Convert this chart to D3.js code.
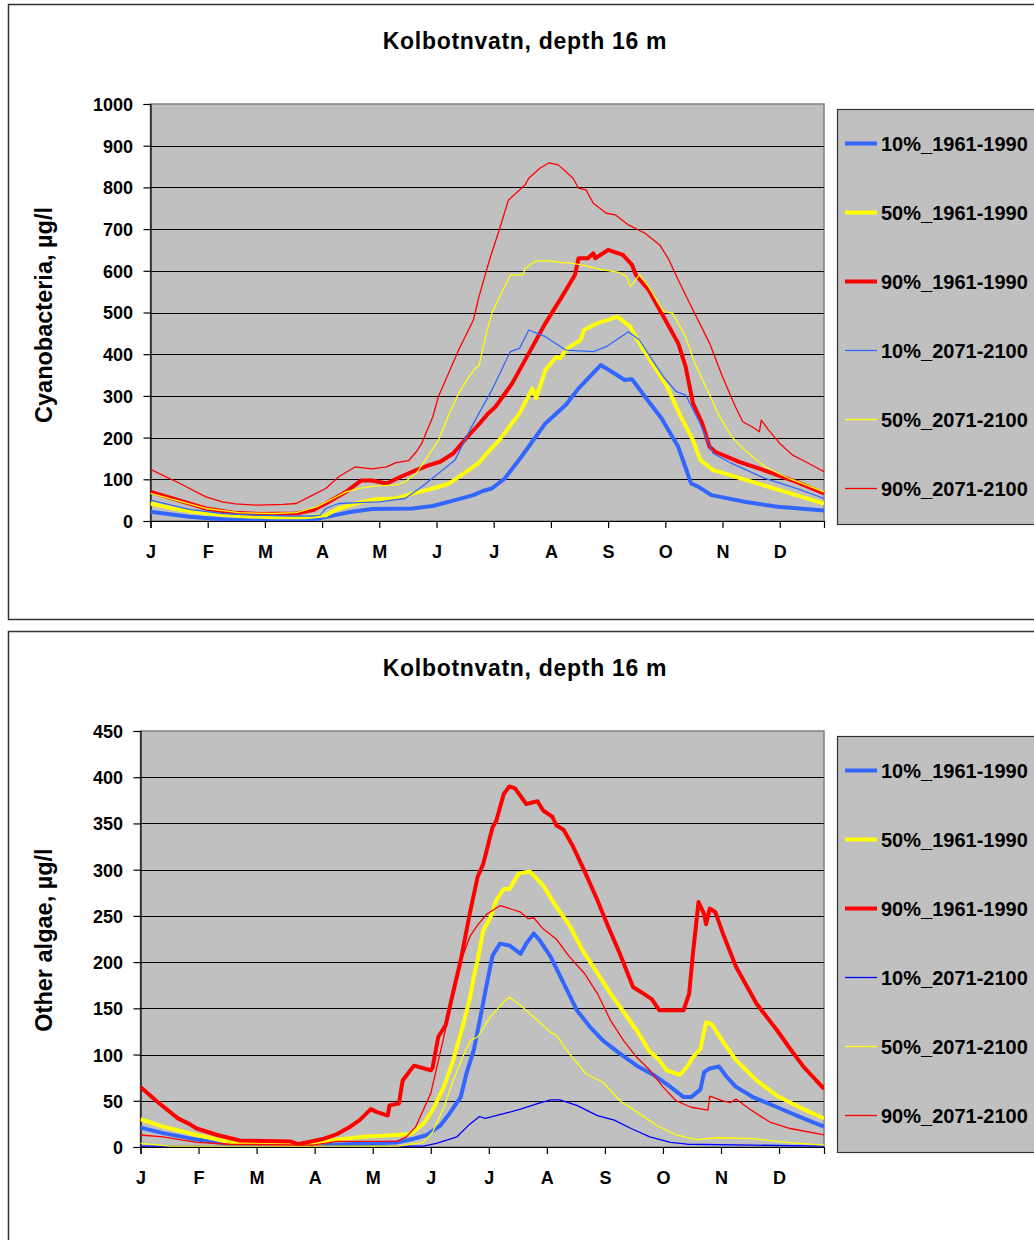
<!DOCTYPE html>
<html>
<head>
<meta charset="utf-8">
<script src="https://cdn.jsdelivr.net/npm/d3@7"></script>
<style>
  html, body { margin: 0; padding: 0; background: #fff; }
  svg { display: block; }
  text { font-family: "Liberation Sans", Arial, sans-serif; font-weight: bold; fill: #000; }
</style>
</head>
<body>
<svg id="chart" width="1034" height="1240"></svg>
<script>
// ---------------- DATA ----------------
const monthLabels = ["J","F","M","A","M","J","J","A","S","O","N","D"];
const monthTickDays = [0,31,62,93,124,155,186,217,248,279,310,341];
const cyanoTicks = [0,100,200,300,400,500,600,700,800,900,1000];
const algaeTicks = [0,50,100,150,200,250,300,350,400,450];
const seriesNames = ["10%_1961-1990","50%_1961-1990","90%_1961-1990","10%_2071-2100","50%_2071-2100","90%_2071-2100"];
const chartTitle = "Kolbotnvatn, depth 16 m";

// Cyanobacteria, µg/l  ([day, value])
const cyano10_1961 = [[0,22],[21,10],[39,4],[57,2],[84,2],[91,6],[100,14],[109,22],[120,29],[142,30],[153,36],[165,50],[175,62],[180,72],[185,78],[192,102],[201,154],[214,234],[225,278],[232,318],[244,374],[250,358],[257,338],[261,340],[268,298],[277,246],[286,178],[293,90],[297,82],[304,62],[322,46],[340,34],[365,25]];
const cyano50_1961 = [[0,42],[12,30],[30,18],[48,12],[66,9],[84,9],[95,14],[102,30],[113,44],[122,52],[133,54],[144,68],[153,78],[162,90],[171,118],[178,140],[183,166],[189,194],[200,258],[207,318],[209,294],[214,362],[220,394],[222,390],[226,414],[233,434],[235,458],[242,474],[253,490],[260,466],[265,426],[272,378],[280,322],[287,254],[294,194],[298,146],[305,122],[323,98],[341,74],[365,42]];
const cyano90_1961 = [[0,70],[12,54],[30,30],[45,20],[59,17],[79,18],[88,26],[95,42],[106,70],[114,97],[120,97],[128,90],[135,105],[144,122],[151,134],[157,142],[164,162],[171,198],[178,232],[183,258],[187,274],[196,330],[205,402],[214,474],[223,538],[230,590],[232,630],[237,630],[240,642],[241,630],[248,650],[256,638],[261,614],[263,590],[270,554],[277,498],[286,426],[290,370],[294,282],[299,234],[303,178],[306,166],[319,142],[335,118],[350,94],[365,66]];
const cyano10_2071 = [[0,50],[21,28],[39,18],[57,14],[75,12],[88,12],[92,14],[95,30],[102,42],[113,44],[124,46],[138,54],[147,82],[156,114],[165,146],[174,226],[178,258],[185,314],[195,406],[200,414],[205,458],[214,442],[225,410],[240,406],[247,418],[259,454],[265,434],[272,386],[278,346],[285,310],[290,302],[297,242],[305,162],[315,138],[333,102],[350,78],[365,54]];
const cyano50_2071 = [[0,66],[12,52],[30,30],[48,20],[66,18],[79,20],[90,34],[99,54],[106,70],[113,78],[122,84],[133,86],[138,94],[144,114],[149,146],[156,194],[162,258],[167,306],[172,342],[176,366],[178,372],[182,450],[185,498],[191,554],[195,590],[202,590],[203,606],[209,624],[216,624],[222,620],[229,618],[236,612],[245,602],[254,596],[258,586],[260,562],[265,590],[270,562],[278,502],[283,498],[290,442],[295,378],[301,322],[308,254],[315,202],[322,170],[333,130],[346,102],[365,70]];
const cyano90_2071 = [[0,124],[16,90],[30,58],[39,46],[46,41],[58,38],[72,40],[79,42],[86,58],[95,78],[102,106],[111,130],[120,125],[128,130],[133,140],[140,145],[144,166],[147,186],[153,250],[156,298],[167,410],[175,482],[178,538],[184,630],[189,698],[194,770],[203,806],[205,822],[211,846],[216,859],[221,854],[229,822],[232,798],[236,794],[240,762],[247,738],[252,734],[259,710],[268,690],[276,662],[281,626],[286,578],[294,506],[303,426],[310,346],[317,274],[321,238],[326,226],[330,214],[331,242],[335,218],[341,186],[348,158],[355,142],[365,118]];

// Other algae, µg/l  ([day, value])
const algae10_1961 = [[0,21],[12,15],[30,8],[48,3],[84,1],[110,3],[137,5],[146,9],[153,13],[160,23],[165,36],[171,54],[174,79],[178,105],[181,135],[185,177],[188,207],[192,220],[197,218],[203,209],[206,220],[210,231],[213,224],[219,206],[226,177],[233,148],[240,130],[247,115],[256,101],[265,88],[274,78],[283,65],[290,54],[294,54],[299,62],[301,81],[304,85],[309,87],[313,76],[318,65],[327,54],[340,43],[354,31],[365,22]];
const algae50_1961 = [[0,30],[12,22],[30,13],[48,5],[66,4],[92,3],[101,7],[119,11],[137,13],[144,14],[151,25],[156,40],[162,65],[167,94],[172,130],[176,162],[178,184],[180,202],[183,234],[187,249],[190,267],[194,279],[197,279],[202,296],[208,298],[215,283],[222,260],[229,240],[236,213],[244,188],[251,166],[258,146],[265,126],[272,103],[277,94],[281,83],[288,78],[292,87],[295,97],[299,106],[302,135],[305,133],[311,114],[318,94],[329,72],[341,54],[354,41],[365,31]];
const algae90_1961 = [[0,65],[9,49],[20,31],[26,25],[30,20],[41,13],[53,7],[80,6],[84,3],[91,6],[98,9],[105,14],[112,22],[117,29],[123,41],[126,38],[132,34],[133,45],[138,47],[140,72],[146,88],[155,83],[156,86],[159,119],[163,132],[166,159],[171,202],[176,254],[180,292],[183,306],[188,346],[190,353],[194,382],[197,390],[200,388],[206,371],[212,374],[215,364],[220,357],[222,348],[226,343],[231,325],[237,299],[244,267],[249,242],[256,209],[263,173],[267,168],[273,160],[277,148],[290,148],[293,166],[295,209],[298,265],[301,252],[302,241],[304,258],[307,254],[311,231],[318,195],[329,155],[340,126],[347,106],[354,87],[359,76],[365,63]];
const algae10_2071 = [[0,1],[151,1],[158,4],[169,11],[176,25],[181,33],[184,31],[194,36],[203,41],[212,47],[219,51],[224,51],[233,45],[244,34],[253,29],[262,20],[272,11],[283,5],[292,3],[327,2],[365,1]];
const algae50_2071 = [[0,4],[16,1],[137,1],[151,5],[156,16],[162,43],[167,72],[172,97],[176,115],[180,119],[187,141],[194,157],[197,162],[203,153],[212,137],[219,124],[222,121],[229,101],[238,79],[247,70],[256,50],[265,38],[276,23],[286,13],[297,8],[308,10],[327,9],[345,5],[365,2]];
const algae90_2071 = [[0,13],[12,11],[30,5],[48,3],[92,2],[105,6],[137,6],[142,11],[147,22],[155,58],[162,119],[167,166],[172,206],[176,228],[180,240],[185,252],[192,261],[197,258],[203,254],[207,247],[210,248],[215,236],[222,225],[229,206],[237,188],[244,166],[251,137],[258,115],[265,97],[272,83],[279,65],[286,50],[294,43],[303,40],[304,55],[311,50],[315,48],[318,52],[326,40],[336,27],[347,20],[365,13]];

// ---------------- DRAW ----------------
const svg = d3.select("#chart");

const styles = [
  {w: 4,   c: "#3366FF"},
  {w: 4,   c: "#FFFF00"},
  {w: 4,   c: "#FF0000"},
  {w: 1.3, c: null},
  {w: 1.3, c: "#FFFF00"},
  {w: 1.3, c: "#FF0000"}
];

function drawChart(cfg) {
  const g = svg.append("g");
  // outer chart box
  g.append("rect")
    .attr("x", 8.5).attr("y", cfg.boxTop + 0.5)
    .attr("width", 1040).attr("height", cfg.boxH)
    .attr("fill", "#fff").attr("stroke", "#333").attr("stroke-width", 1.5);

  const x = d3.scaleLinear().domain([0, 365]).range([cfg.left, cfg.right]);
  const y = d3.scaleLinear().domain([0, cfg.yMax]).range([cfg.bottom, cfg.top]);

  // plot area
  g.append("rect")
    .attr("x", cfg.left).attr("y", cfg.top)
    .attr("width", cfg.right - cfg.left).attr("height", cfg.bottom - cfg.top)
    .attr("fill", "#C0C0C0").attr("stroke", "#808080").attr("stroke-width", 1.5);

  // gridlines
  g.append("g").selectAll("line")
    .data(cfg.ticks.filter(t => t > 0 && t < cfg.yMax))
    .join("line")
    .attr("x1", cfg.left).attr("x2", cfg.right)
    .attr("y1", d => Math.round(y(d)) + 0.5).attr("y2", d => Math.round(y(d)) + 0.5)
    .attr("stroke", "#000").attr("stroke-width", 1);

  // y axis
  const yAxis = d3.axisLeft(y).tickValues(cfg.ticks).tickSize(7).tickPadding(3).tickFormat(d3.format("d"));
  const ya = g.append("g").attr("transform", `translate(${cfg.left},0)`).call(yAxis);
  ya.select(".domain").attr("stroke", "#000").attr("stroke-width", 1.2);
  ya.selectAll(".tick line").attr("stroke", "#000").attr("stroke-width", 1.2);
  ya.selectAll(".tick text")
    .attr("font-size", 18).attr("font-family", "Liberation Sans, Arial, sans-serif")
    .attr("font-weight", "bold").attr("fill", "#000")
    .attr("x", -(cfg.left - cfg.yLabelRight)).attr("dy", "0.36em");

  // x axis
  const xAxis = d3.axisBottom(x).tickValues(monthTickDays.concat([365])).tickSize(7).tickFormat((d, i) => monthLabels[i] || "");
  const xa = g.append("g").attr("transform", `translate(0,${cfg.bottom})`).call(xAxis);
  xa.select(".domain").attr("stroke", "#000").attr("stroke-width", 1.2);
  xa.selectAll(".tick line").attr("stroke", d => d === 365 ? "none" : "#000").attr("stroke-width", 1.2);
  xa.selectAll(".tick text")
    .attr("font-size", 18).attr("font-family", "Liberation Sans, Arial, sans-serif")
    .attr("font-weight", "bold").attr("fill", "#000")
    .attr("y", 37).attr("dy", 0);

  // clip
  const clipId = "clip" + cfg.boxTop;
  svg.append("clipPath").attr("id", clipId).append("rect")
    .attr("x", cfg.left).attr("y", cfg.top - 3)
    .attr("width", cfg.right - cfg.left).attr("height", cfg.bottom - cfg.top + 3);

  const line = d3.line().x(d => x(d[0])).y(d => y(d[1]));
  const lines = g.append("g").attr("clip-path", `url(#${clipId})`);
  cfg.series.forEach((s, i) => {
    const st = styles[i];
    lines.append("path").datum(s)
      .attr("d", line)
      .attr("fill", "none")
      .attr("stroke", st.c || cfg.thinBlue)
      .attr("stroke-width", st.w)
      .attr("stroke-linejoin", "round")
      .attr("stroke-linecap", "butt");
  });

  // title
  g.append("text").attr("x", 525).attr("y", cfg.boxTop + 45)
    .attr("text-anchor", "middle").attr("font-size", 23).attr("letter-spacing", 0.7)
    .text(chartTitle);

  // y title
  g.append("text")
    .attr("transform", `translate(52,${cfg.yTitleY}) rotate(-90)`)
    .attr("text-anchor", "middle").attr("font-size", 23.5)
    .text(cfg.yTitle);

  // legend
  g.append("rect")
    .attr("x", 837.5).attr("y", cfg.legTop + 0.5)
    .attr("width", 250).attr("height", cfg.legH)
    .attr("fill", "#C0C0C0").attr("stroke", "#333").attr("stroke-width", 1.2);
  seriesNames.forEach((name, i) => {
    const ry = cfg.legRow0 + i * 69;
    const st = styles[i];
    g.append("line").attr("x1", 845).attr("x2", 877).attr("y1", ry).attr("y2", ry)
      .attr("stroke", st.c || cfg.thinBlue).attr("stroke-width", st.w);
    g.append("text").attr("x", 881).attr("y", ry + 7).attr("font-size", 20).text(name);
  });
}

drawChart({
  boxTop: 4, boxH: 615,
  left: 150.5, right: 824, top: 104, bottom: 521,
  yMax: 1000, ticks: cyanoTicks, yLabelRight: 133,
  yTitle: "Cyanobacteria, µg/l", yTitleY: 315,
  legTop: 109, legH: 415, legRow0: 143.5,
  thinBlue: "#3366FF",
  series: [cyano10_1961, cyano50_1961, cyano90_1961, cyano10_2071, cyano50_2071, cyano90_2071]
});

drawChart({
  boxTop: 631, boxH: 700,
  left: 140.5, right: 824, top: 731, bottom: 1147,
  yMax: 450, ticks: algaeTicks, yLabelRight: 123,
  yTitle: "Other algae, µg/l", yTitleY: 940,
  legTop: 736, legH: 416, legRow0: 770.5,
  thinBlue: "#0000FF",
  series: [algae10_1961, algae50_1961, algae90_1961, algae10_2071, algae50_2071, algae90_2071]
});
</script>
</body>
</html>
